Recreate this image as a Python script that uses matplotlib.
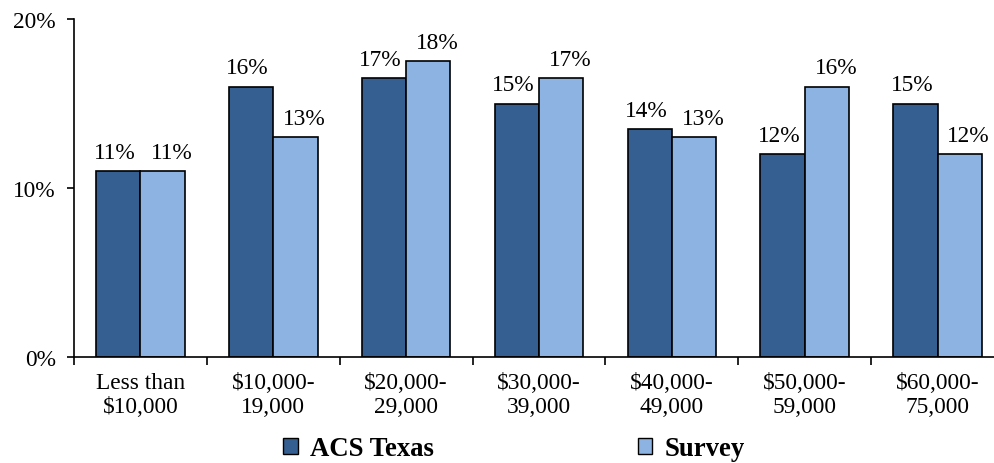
import matplotlib
matplotlib.use("Agg")
import matplotlib.pyplot as plt
import numpy as np
from matplotlib.patches import Patch

categories = ["Less than\n$10,000", "$10,000-\n19,000", "$20,000-\n29,000",
              "$30,000-\n39,000", "$40,000-\n49,000", "$50,000-\n59,000",
              "$60,000-\n75,000"]
acs_texas = [11.0, 16.0, 16.5, 15.0, 13.5, 12.0, 15.0]
survey = [11.0, 13.0, 17.5, 16.5, 13.0, 16.0, 12.0]
series_names = ["ACS Texas", "Survey"]
y_ticks = [0, 10, 20]

plt.rcParams['font.family'] = ['Liberation Serif', 'DejaVu Serif']

fig = plt.figure(figsize=(9.95, 4.64), dpi=100)
ax = fig.add_axes([74 / 995, 1 - 358 / 464, 930 / 995, (358 - 20) / 464])

x = np.arange(len(categories))
w = 1 / 3
c_acs = "#365F91"
c_srv = "#8DB3E2"

b1 = ax.bar(x - w / 2, acs_texas, w, color=c_acs, edgecolor="black", linewidth=1.2)
b2 = ax.bar(x + w / 2, survey, w, color=c_srv, edgecolor="black", linewidth=1.2)


def pct(v):
    return f"{int(v + 0.5)}%"


# value labels: the dark series sits a touch left, the light one to the right
for bars, vals, dx in ((b1, acs_texas, -2.5), (b2, survey, 6.5)):
    for rect, v in zip(bars, vals):
        ax.annotate(pct(v), (rect.get_x() + rect.get_width() / 2, v),
                    xytext=(dx, 6), textcoords="offset points",
                    ha="center", va="bottom", fontsize=16.8)

ax.set_xlim(-0.5, len(categories) - 0.5)
ax.set_ylim(0, 20)
ax.set_yticks(y_ticks)
ax.set_yticklabels([f"{t}%" for t in y_ticks], fontsize=16.8)
ax.tick_params(axis="y", direction="out", length=5, width=1.2, pad=8)

ax.set_xticks(x)
ax.set_xticklabels(categories, fontsize=16.8, linespacing=1.15)
ax.tick_params(axis="x", which="major", length=0, pad=11)
ax.set_xticks(np.arange(-0.5, len(categories)), minor=True)
ax.tick_params(axis="x", which="minor", direction="out", length=6, width=1.2)

for s in ("top", "right"):
    ax.spines[s].set_visible(False)
for s in ("left", "bottom"):
    ax.spines[s].set_linewidth(1.2)

handles = [Patch(facecolor=c_acs, edgecolor="black", linewidth=1.0),
           Patch(facecolor=c_srv, edgecolor="black", linewidth=1.0)]
fig.legend(handles, series_names, loc="center", bbox_to_anchor=(514 / 995, 1 - 450 / 464),
           ncol=2, frameon=False, prop={"weight": "bold", "size": 19.3},
           handlelength=0.55, handleheight=0.55, handletextpad=0.45, columnspacing=7.6)

fig.savefig("out.png", dpi=100)
